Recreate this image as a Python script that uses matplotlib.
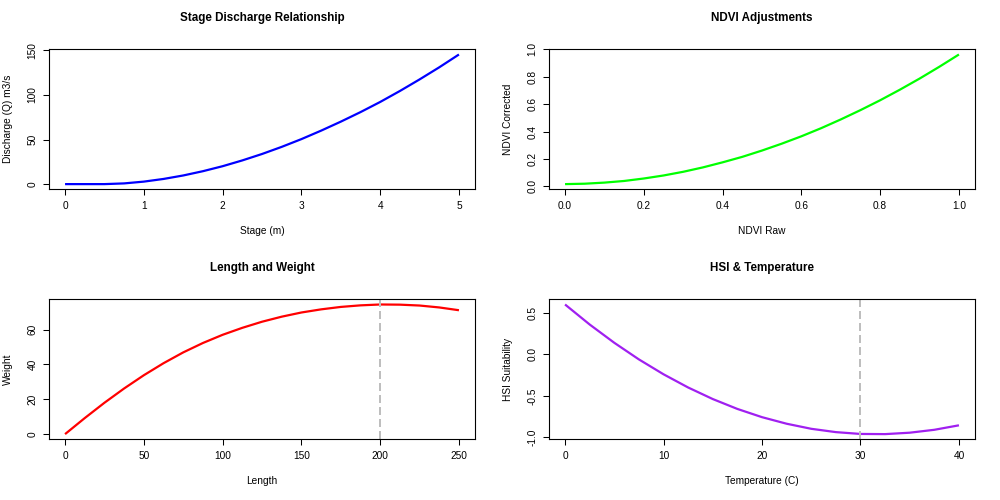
import matplotlib
matplotlib.use("Agg")
import matplotlib.pyplot as plt

plt.rcParams['font.family'] = ['Liberation Sans', 'DejaVu Sans']

# ---- Data ----
stage = [0, 0.25, 0.5, 0.75, 1, 1.25, 1.5, 1.75, 2, 2.25, 2.5, 2.75, 3,
         3.25, 3.5, 3.75, 4, 4.25, 4.5, 4.75, 5]
discharge = [0, 0, 0, 0.8, 2.8, 5.8, 9.7, 14.5, 20.1, 26.6, 33.8, 41.8, 50.5,
             60.0, 70.1, 80.8, 92.2, 104.5, 117.5, 131.1, 145.5]

ndvi_raw = [0, 0.05, 0.1, 0.15, 0.2, 0.25, 0.3, 0.35, 0.4, 0.45, 0.5,
            0.55, 0.6, 0.65, 0.7, 0.75, 0.8, 0.85, 0.9, 0.95, 1.0]
ndvi_corr = [0.017, 0.020, 0.028, 0.040, 0.058, 0.080, 0.107, 0.139, 0.176,
             0.216, 0.262, 0.312, 0.366, 0.425, 0.489, 0.557, 0.629, 0.706,
             0.787, 0.873, 0.963]

length = [0, 12.5, 25, 37.5, 50, 62.5, 75, 87.5, 100, 112.5, 125, 137.5,
          150, 162.5, 175, 187.5, 200, 212.5, 225, 237.5, 250]
weight = [0, 9.2, 18.0, 26.2, 33.8, 40.7, 46.9, 52.3, 57.0, 61.0, 64.5,
          67.4, 69.8, 71.6, 73.0, 73.9, 74.4, 74.3, 73.8, 72.7, 71.1]
length_mark = 200

temp = [0, 2.5, 5, 7.5, 10, 12.5, 15, 17.5, 20, 22.5, 25, 27.5, 30,
        32.5, 35, 37.5, 40]
hsi = [0.600, 0.359, 0.139, -0.061, -0.240, -0.399, -0.538, -0.657, -0.756,
       -0.835, -0.896, -0.936, -0.958, -0.960, -0.943, -0.908, -0.854]
temp_mark = 30

xt1 = [0, 1, 2, 3, 4, 5]
yt1 = [0, 50, 100, 150]
xt2 = [0.0, 0.2, 0.4, 0.6, 0.8, 1.0]
yt2 = [0.0, 0.2, 0.4, 0.6, 0.8, 1.0]
xt3 = [0, 50, 100, 150, 200, 250]
yt3 = [0, 20, 40, 60]
xt4 = [0, 10, 20, 30, 40]
yt4 = [-1.0, -0.5, 0.0, 0.5]

W, H = 1000, 500
fig = plt.figure(figsize=(10, 5), dpi=100)

def make_ax(left_px, top_px):
    l = left_px / W
    b = 1 - (top_px + 140) / H
    return fig.add_axes([l, b, 425.4 / W, 140 / H])

def rpad(vals):
    lo, hi = min(vals), max(vals)
    d = (hi - lo) * 0.04
    return lo - d, hi + d

def style(ax, x, y, xt, yt, xfmt, yfmt, title, xl, yl):
    ax.set_xlim(*rpad(x))
    ax.set_ylim(*rpad(y))
    ax.set_xticks(xt)
    ax.set_yticks(yt)
    ax.set_xticklabels([xfmt(v) for v in xt])
    ax.set_yticklabels([yfmt(v) for v in yt], rotation=90, va='center')
    ax.tick_params(direction='out', length=4.3, width=0.75, labelsize=7.3,
                   pad=4.3, colors='black')
    for s in ax.spines.values():
        s.set_linewidth(0.8)
        s.set_color('black')
    ax.set_title(title, fontsize=8.4, fontweight='bold', y=1.166, va='center')
    ax.set_xlabel(xl, fontsize=7.3)
    ax.xaxis.set_label_coords(0.5, -0.298)
    ax.xaxis.label.set_verticalalignment('center')
    ax.set_ylabel(yl, fontsize=7.3)
    ax.yaxis.set_label_coords(-0.098, 0.5)
    ax.yaxis.label.set_verticalalignment('center')
    ax.yaxis.label.set_horizontalalignment('center')

f0 = lambda v: f"{v:g}"
f1 = lambda v: f"{v:.1f}"

ax1 = make_ax(49.3, 49.3)
ax1.plot(stage, discharge, color='#0000FF', lw=1.6, solid_capstyle='butt')
style(ax1, stage, discharge, xt1, yt1, f0, f0,
      'Stage Discharge Relationship', 'Stage (m)', 'Discharge (Q) m3/s')

ax2 = make_ax(549.3, 49.3)
ax2.plot(ndvi_raw, ndvi_corr, color='#00FF00', lw=1.6, solid_capstyle='butt')
style(ax2, ndvi_raw, ndvi_corr, xt2, yt2, f1, f1,
      'NDVI Adjustments', 'NDVI Raw', 'NDVI Corrected')

ax3 = make_ax(49.3, 299.3)
ax3.plot(length, weight, color='#FF0000', lw=1.6, solid_capstyle='butt')
style(ax3, length, weight, xt3, yt3, f0, f0,
      'Length and Weight', 'Length', 'Weight')
ax3.axvline(length_mark, color='#BEBEBE', lw=1.44, dashes=(4, 2))

ax4 = make_ax(549.3, 299.3)
ax4.plot(temp, hsi, color='#A020F0', lw=1.6, solid_capstyle='butt')
style(ax4, temp, hsi, xt4, yt4, f0, f1,
      'HSI & Temperature', 'Temperature (C)', 'HSI Suitability')
ax4.axvline(temp_mark, color='#BEBEBE', lw=1.44, dashes=(4, 2))

fig.savefig('out.png', dpi=100, facecolor='white')
